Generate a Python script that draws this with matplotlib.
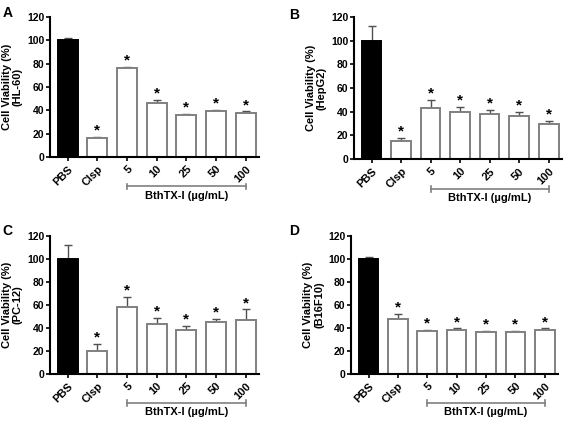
import matplotlib.pyplot as plt
from matplotlib.transforms import blended_transform_factory

plt.rcParams['font.family'] = ['Liberation Sans', 'DejaVu Sans']
plt.rcParams['font.weight'] = 'bold'

groups = ['PBS', 'Clsp', '5', '10', '25', '50', '100']
cells = ['HL-60', 'HepG2', 'PC-12', 'B16F10']
panel_ids = ['A', 'B', 'C', 'D']

vals_a = [100, 16, 76, 46, 36, 39, 38]
errs_a = [2, 1, 1, 3, 0.5, 1, 1]
vals_b = [100, 15, 43, 40, 38, 36, 30]
errs_b = [12, 3, 7, 4, 3.5, 4, 2]
vals_c = [100, 20, 58, 43, 38, 45, 47]
errs_c = [12, 6, 9, 6, 4, 3, 9]
vals_d = [100, 48, 37.5, 38, 36.5, 36, 38.5]
errs_d = [1.5, 4, 0.5, 1.5, 0.5, 1, 1]

all_vals = [vals_a, vals_b, vals_c, vals_d]
all_errs = [errs_a, errs_b, errs_c, errs_d]

# axes rectangles (left, bottom, width, height) in figure fraction
rects = [(0.088, 0.628, 0.369, 0.332),
         (0.624, 0.623, 0.367, 0.337),
         (0.088, 0.114, 0.369, 0.327),
         (0.619, 0.114, 0.365, 0.327)]
label_pos = [(0.005, 0.985), (0.51, 0.98), (0.005, 0.47), (0.51, 0.47)]

fig = plt.figure(figsize=(5.67, 4.22), dpi=100)
x = list(range(len(groups)))

for k in range(4):
    ax = fig.add_axes(rects[k])
    vals, errs = all_vals[k], all_errs[k]
    colors = ['black'] + ['white'] * 6
    edges = ['black'] + ['#808080'] * 6
    ax.bar(x, vals, width=0.67, color=colors, edgecolor=edges, linewidth=1.4, zorder=2)
    ax.errorbar(x, vals, yerr=[[0] * 7, errs], fmt='none', ecolor='#505050',
                elinewidth=1.0, capsize=3, capthick=1.0, zorder=1)
    for i in range(1, 7):
        ax.text(i, vals[i] + errs[i] - 0.5, '*', ha='center', va='bottom', fontsize=11, fontweight='bold')
    ax.set_xlim(-0.6, 6.45)
    ax.set_ylim(0, 120)
    ax.set_yticks([0, 20, 40, 60, 80, 100, 120])
    ax.set_xticks(x)
    ax.set_xticklabels(groups, rotation=45, ha='right', rotation_mode='anchor', fontsize=8)
    ax.tick_params(axis='y', labelsize=7.5, length=3, width=1.2, pad=1)
    ax.tick_params(axis='x', length=3, width=1.2, pad=2)
    for s in ['top', 'right']:
        ax.spines[s].set_visible(False)
    for s in ['left', 'bottom']:
        ax.spines[s].set_linewidth(1.5)
    ax.set_ylabel('Cell Viability (%)\n(' + cells[k] + ')', fontsize=8, fontweight='bold',
                  labelpad=3, linespacing=1.1)
    tr = blended_transform_factory(ax.transData, ax.transAxes)
    ax.plot([2, 6], [-0.21, -0.21], color='#808080', lw=1.2, transform=tr, clip_on=False)
    ax.plot([2, 2], [-0.19, -0.23], color='#808080', lw=1.2, transform=tr, clip_on=False)
    ax.plot([6, 6], [-0.19, -0.23], color='#808080', lw=1.2, transform=tr, clip_on=False)
    ax.text(4, -0.275, 'BthTX-I (\u00b5g/mL)', transform=tr, ha='center', va='center',
            fontsize=8, fontweight='bold')
    fig.text(label_pos[k][0], label_pos[k][1], panel_ids[k], fontsize=10, fontweight='bold',
             va='top', ha='left')

fig.savefig('out.png', dpi=100)
